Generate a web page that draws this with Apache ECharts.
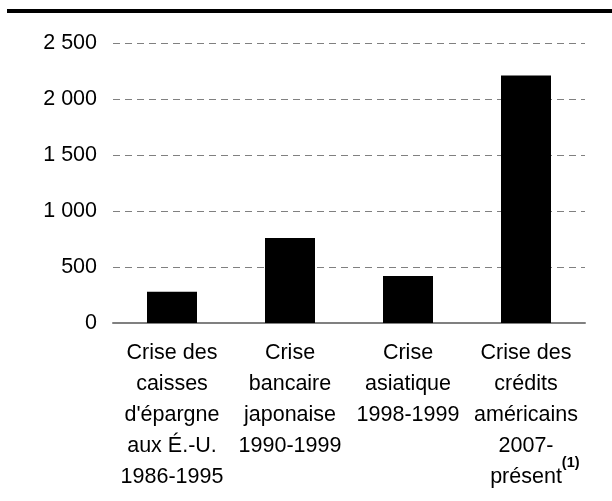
<!DOCTYPE html>
<html lang="fr">
<head>
    <meta charset="UTF-8">
    <title>Crises</title>
    <script src="https://cdn.jsdelivr.net/npm/echarts@6/dist/echarts.min.js"></script>
    <style>
        html, body { margin: 0; padding: 0; background: #fff; }
    </style>
</head>
<body>
    <div style="height: 501px;width: 612px" id="chartBox"></div>
    <script type="text/javascript">
        // categories (label lines) and values
        var categories = [
            "Crise des\ncaisses\nd'épargne\naux É.-U.\n1986-1995",
            "Crise\nbancaire\njaponaise\n1990-1999",
            "Crise\nasiatique\n1998-1999",
            "Crise des\ncrédits\naméricains\n2007-\n{ghost|(1)}présent{sup|(1)}"
        ];
        var values = [280, 760, 420, 2210];
        var yTicks = [0, 500, 1000, 1500, 2000, 2500];

        var myChart = echarts.init(document.getElementById("chartBox"));
        var option = {
            animation: false,
            textStyle: { fontFamily: 'Liberation Sans, Arial, sans-serif' },
            graphic: [{
                type: 'rect',
                shape: { x: 7, y: 9, width: 605, height: 4 },
                style: { fill: '#000' }
            }],
            grid: { left: 113, right: 27, top: 43, bottom: 178 },
            xAxis: {
                type: 'category',
                data: categories,
                axisTick: { show: false },
                axisLine: { lineStyle: { color: '#808080', width: 2 } },
                axisLabel: {
                    interval: 0,
                    margin: 15,
                    color: '#000',
                    fontSize: 21.5,
                    lineHeight: 31,
                    rich: {
                        sup: { fontSize: 14.5, fontWeight: 'bold', verticalAlign: 'top', padding: [-7, 0, 0, 0], color: '#000' },
                        ghost: { fontSize: 14.5, fontWeight: 'bold', color: 'rgba(0,0,0,0)' }
                    }
                }
            },
            yAxis: {
                type: 'value',
                min: yTicks[0],
                max: yTicks[yTicks.length - 1],
                interval: 500,
                axisLine: { show: false },
                axisTick: { show: false },
                axisLabel: {
                    margin: 16,
                    color: '#000',
                    fontSize: 21.5,
                    formatter: function (v) {
                        return String(v).replace(/\B(?=(\d{3})+(?!\d))/g, ' ');
                    }
                },
                splitLine: { lineStyle: { color: '#808080', type: [7, 5], width: 1 } }
            },
            series: [{
                type: 'bar',
                data: values,
                barWidth: 50,
                itemStyle: { color: '#000' }
            }]
        };
        myChart.setOption(option);
    </script>
</body>
</html>
